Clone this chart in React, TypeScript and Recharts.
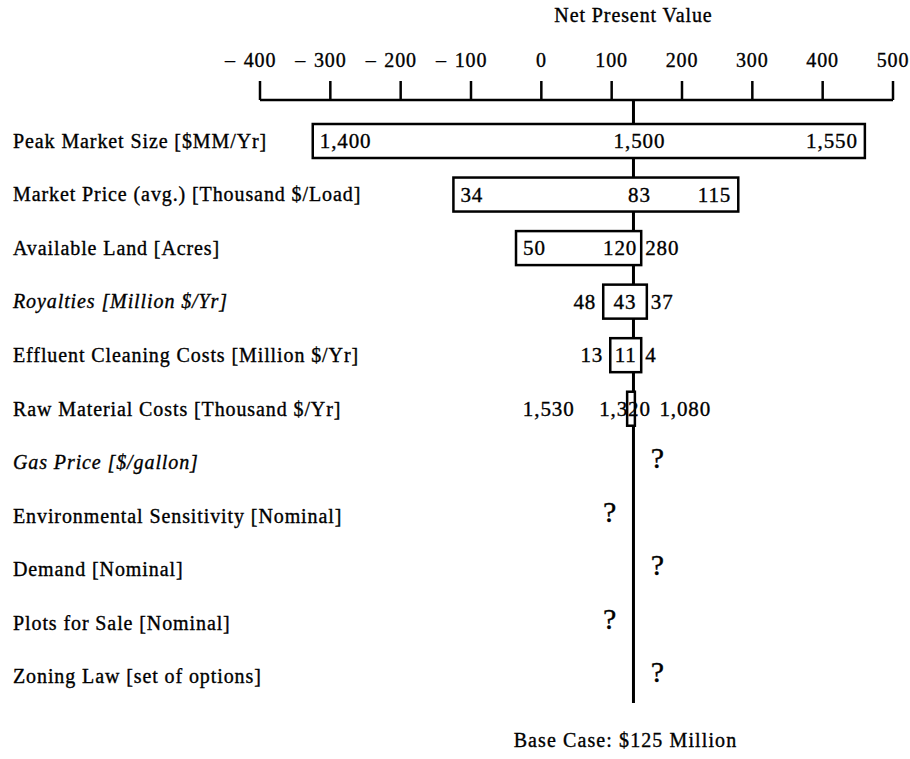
import React from 'react';
import { ComposedChart, Bar, Scatter, XAxis, YAxis, ReferenceLine } from 'recharts';

// ---------- data ----------
const categories = [
  'Peak Market Size [$MM/Yr]',
  'Market Price (avg.) [Thousand $/Load]',
  'Available Land [Acres]',
  'Royalties [Million $/Yr]',
  'Effluent Cleaning Costs [Million $/Yr]',
  'Raw Material Costs [Thousand $/Yr]',
  'Gas Price [$/gallon]',
  'Environmental Sensitivity [Nominal]',
  'Demand [Nominal]',
  'Plots for Sale [Nominal]',
  'Zoning Law [set of options]',
];
// NPV at the low / high end of each swing (null = unknown)
const lowNPV: (number | null)[] = [-325, -125, -36, 88, 98, 122, null, null, null, null, null];
const highNPV: (number | null)[] = [460, 280, 142, 150, 142, 133, null, null, null, null, null];
// input values printed on each bar
const lowLabels = ['1,400', '34', '50', '48', '13', '1,530', '', '', '', '', ''];
const baseLabels = ['1,500', '83', '120', '43', '11', '1,320', '', '', '', '', ''];
const highLabels = ['1,550', '115', '280', '37', '4', '1,080', '', '', '', '', ''];
// unknown effect: side of the base line where the "?" sits (1 = higher NPV, -1 = lower)
const unknownSide: (number | null)[] = [null, null, null, null, null, null, 1, -1, 1, -1, 1];
const xTicks = [-400, -300, -200, -100, 0, 100, 200, 300, 400, 500];
const BASE_NPV = 131;
const BASE_CASE_TEXT = 'Base Case: $125 Million';
const X_TITLE = 'Net Present Value';
const Q_SHIFT = 34;

const data = categories.map((name, i) => ({
  name,
  idx: i,
  range: lowNPV[i] != null && highNPV[i] != null ? [lowNPV[i], highNPV[i]] : null,
  q: unknownSide[i] != null ? BASE_NPV + (unknownSide[i] as number) * Q_SHIFT : null,
}));

// ---------- styles ----------
const FONT = '"Liberation Serif", "Times New Roman", Times, serif';
const INK = '#000';
const LS = 0.9;
const THICK = 0.35;
const ITALIC_ROWS = new Set([3, 6]);
const W = 910;
const H = 759;
const YW = 260;

const textW = (s: string, size: number) => {
  let w = 0;
  for (const ch of s) w += ch === ',' ? size * 0.25 : size * 0.5;
  return w + Math.max(0, s.length - 1) * LS;
};

const XTick = (props: any) => {
  const { x, y, payload } = props;
  const v = payload.value as number;
  return (
    <g>
      {v < 0 && (
        <text x={x - 25} y={y} textAnchor="end" fontFamily={FONT} fontSize={20} fill={INK} stroke={INK} strokeWidth={THICK}>
          –
        </text>
      )}
      <text x={x} y={y} textAnchor="middle" fontFamily={FONT} fontSize={20} letterSpacing={LS} fill={INK} stroke={INK} strokeWidth={THICK}>
        {String(Math.abs(v))}
      </text>
    </g>
  );
};

const YTick = (props: any) => {
  const { x, y, payload, index } = props;
  return (
    <text
      x={x - (YW - 13)}
      y={y + 7}
      textAnchor="start"
      fontFamily={FONT}
      fontSize={20}
      letterSpacing={LS}
      fontStyle={ITALIC_ROWS.has(index) ? 'italic' : 'normal'}
      fill={INK}
      stroke={INK}
      strokeWidth={THICK}
    >
      {payload.value}
    </text>
  );
};

const BarShape = (props: any) => {
  const { x, y, width, height, payload } = props;
  if (!payload || !payload.range) return <g />;
  const i = payload.idx as number;
  const lo = payload.range[0] as number;
  const hi = payload.range[1] as number;
  const bx = x + (width * (BASE_NPV - lo)) / (hi - lo);
  const right = x + width;
  const leftSeg = bx - x;
  const rightSeg = right - bx;
  const ty = y + height / 2 + 7;
  const fs = 21;
  const common = { fontFamily: FONT, fontSize: fs, letterSpacing: LS, fill: INK, stroke: INK, strokeWidth: THICK } as any;

  const bw = textW(baseLabels[i], fs);
  const overflow = bw > width;
  let baseX: number;
  let baseAnchor: 'start' | 'middle' | 'end' = 'middle';
  if (overflow) {
    baseX = x + width / 2 - 6;
  } else if (width < 60) {
    baseX = x + width / 2;
  } else if (rightSeg < 20) {
    baseX = right - 4;
    baseAnchor = 'end';
  } else {
    baseX = bx + 6;
  }

  let lowX: number;
  let lowAnchor: 'start' | 'end';
  let highX: number;
  let highAnchor: 'start' | 'end';
  if (leftSeg > 60) {
    lowX = x + 7;
    lowAnchor = 'start';
  } else {
    lowAnchor = 'end';
    lowX = overflow ? baseX - bw / 2 - 25 : x - 7;
  }
  if (rightSeg > 60) {
    highX = right - 7;
    highAnchor = 'end';
  } else {
    highAnchor = 'start';
    highX = overflow ? baseX + bw / 2 + 9 : right + 4;
  }

  return (
    <g>
      <rect x={x} y={y} width={width} height={height} fill="#fff" stroke={INK} strokeWidth={2.5} />
      <text {...common} x={lowX} y={ty} textAnchor={lowAnchor}>
        {lowLabels[i]}
      </text>
      <text {...common} x={baseX} y={ty} textAnchor={baseAnchor}>
        {baseLabels[i]}
      </text>
      <text {...common} x={highX} y={ty} textAnchor={highAnchor}>
        {highLabels[i]}
      </text>
    </g>
  );
};

const QShape = (props: any) => {
  const { cx, cy, payload } = props;
  if (!payload || payload.q == null || !isFinite(cx) || !isFinite(cy)) return <g />;
  return (
    <text x={cx} y={cy + 6} textAnchor="middle" fontFamily={FONT} fontSize={30} fill={INK} stroke={INK} strokeWidth={THICK}>
      ?
    </text>
  );
};

const BaseLabel = (props: any) => {
  const vb = props.viewBox || {};
  return (
    <g>
      <text x={vb.x} y={vb.y - 78} textAnchor="middle" fontFamily={FONT} fontSize={20} letterSpacing={LS} fill={INK} stroke={INK} strokeWidth={THICK}>
        {X_TITLE}
      </text>
      <text
        x={vb.x - 8}
        y={vb.y + vb.height + 44}
        textAnchor="middle"
        fontFamily={FONT}
        fontSize={20}
        letterSpacing={1.1}
        fill={INK}
        stroke={INK}
        strokeWidth={THICK}
      >
        {BASE_CASE_TEXT}
      </text>
    </g>
  );
};

export default function App() {
  return (
    <div style={{ width: W, height: H, background: '#fff', overflow: 'hidden' }}>
      <style>{`html,body{margin:0;padding:0;overflow:hidden;background:#fff}`}</style>
      <ComposedChart
        width={W}
        height={H}
        data={data}
        layout="vertical"
        margin={{ top: 0, right: 17, left: 0, bottom: 56 }}
      >
        <XAxis
          type="number"
          orientation="top"
          domain={[-400, 500]}
          ticks={xTicks}
          height={100}
          tickSize={19}
          tickMargin={14}
          tick={<XTick />}
          axisLine={{ stroke: INK, strokeWidth: 2.5 }}
          tickLine={{ stroke: INK, strokeWidth: 2.5 }}
          interval={0}
        />
        <YAxis
          type="category"
          dataKey="name"
          width={YW}
          axisLine={false}
          tickLine={false}
          tickSize={0}
          tickMargin={0}
          tick={<YTick />}
          interval={0}
          padding={{ top: 14, bottom: 0 }}
        />
        <ReferenceLine
          x={BASE_NPV}
          stroke={INK}
          strokeWidth={3}
          label={<BaseLabel />}
          zIndex={250}
        />
        <Bar dataKey="range" barSize={34} shape={<BarShape />} isAnimationActive={false} />
        <Scatter dataKey="q" shape={<QShape />} isAnimationActive={false} />
      </ComposedChart>
    </div>
  );
}
